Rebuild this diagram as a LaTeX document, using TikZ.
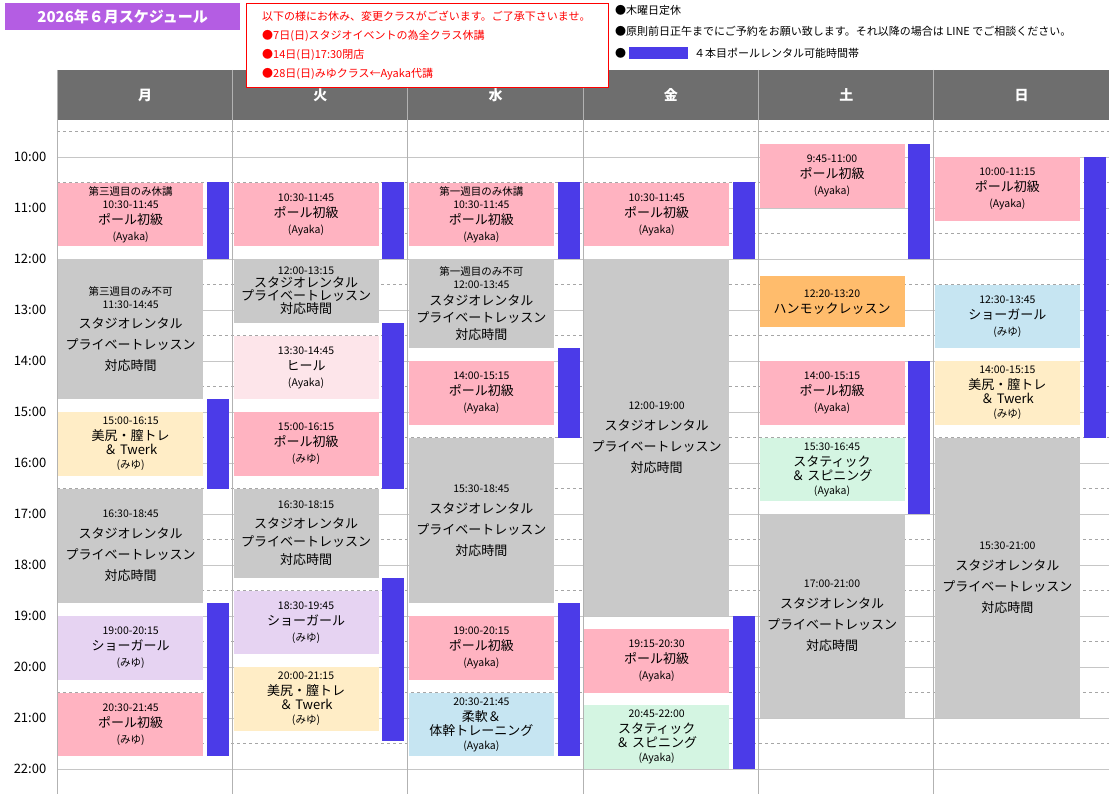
\documentclass[tikz,border=0pt]{standalone}
\usepackage{fontspec}
\setmainfont{Noto Sans CJK JP}
\begin{document}
\begin{tikzpicture}[x=1pt,y=-1pt,
  cbox/.style={anchor=north west,inner sep=0pt,align=center,font=\fontsize{13}{16}\selectfont},
  rbar/.style={fill=barblue,draw=none},
  hline/.style={draw=gray!45,line width=0.6pt},
  dline/.style={draw=gray!70,dashed,line width=0.6pt},
  tlabel/.style={font=\fontsize{13}{15}\selectfont,anchor=center}]
\definecolor{cpink}{HTML}{FFB3C1}
\definecolor{cgray}{HTML}{C9C9C9}
\definecolor{cyel}{HTML}{FFEDC6}
\definecolor{clav}{HTML}{E6D3F2}
\definecolor{cblue}{HTML}{C6E5F2}
\definecolor{cmint}{HTML}{D4F5E2}
\definecolor{corange}{HTML}{FFBC6C}
\definecolor{clpink}{HTML}{FDE5EA}
\definecolor{barblue}{HTML}{4B3BE8}
\definecolor{hdr}{HTML}{6E6E6E}
\definecolor{ttl}{HTML}{B45DE3}
\newcommand{\sm}[1]{{\fontsize{10.5}{13}\selectfont #1}}
\newcommand{\cls}[6]{%
  \pgfmathsetmacro{\xa}{57+175.33*#2+1}%
  \pgfmathsetmacro{\ya}{157+51*(#3-10)}%
  \pgfmathsetmacro{\hh}{51*(#4-#3)}%
  \node[cbox,fill=#5,minimum width=145pt,minimum height=\hh pt] (#1) at (\xa,\ya) {#6};}
\newcommand{\rentbar}[4]{%
  \pgfmathsetmacro{\xa}{57+175.33*#2+150}%
  \pgfmathsetmacro{\ya}{157+51*(#3-10)}%
  \pgfmathsetmacro{\yb}{157+51*(#4-10)}%
  \path[rbar] (\xa,\ya) rectangle ++(22,\yb-\ya) coordinate (#1);}
\useasboundingbox (0,0) rectangle (1109,794);
\fill[white] (0,0) rectangle (1109,794);
% header
\fill[hdr] (57,70) rectangle (1109,120);
\foreach \n [count=\i from 0] in {月,火,水,金,土,日}{
  \node[text=white,font=\fontsize{14}{16}\selectfont\bfseries] (h\i) at (57+175.33*\i+88,95) {\n};}
% grid
\foreach \t in {10,...,22}{
  \draw[hline] (57,{157+51*(\t-10)}) -- (1109,{157+51*(\t-10)});
  \node[tlabel] (t\t) at (30,{157+51*(\t-10)}) {\t:00};}
\foreach \t in {9.5,10.5,...,22.5}{
  \draw[dline] (57,{157+51*(\t-10)}) -- (1109,{157+51*(\t-10)});}
\foreach \i in {0,...,6}{
  \draw[draw=gray!60,line width=0.6pt] ({57+175.33*\i},70) -- ({57+175.33*\i},794);}
% bars
\rentbar{b1}{0}{10.5}{12}\rentbar{b2}{0}{14.75}{16.5}\rentbar{b3}{0}{18.75}{21.75}
\rentbar{b4}{1}{10.5}{12}\rentbar{b5}{1}{13.25}{16.5}\rentbar{b6}{1}{18.25}{21.45}
\rentbar{b7}{2}{10.5}{12}\rentbar{b8}{2}{13.75}{15.5}\rentbar{b9}{2}{18.75}{21.75}
\rentbar{b10}{3}{10.5}{12}\rentbar{b11}{3}{19}{22}
\rentbar{b12}{4}{9.75}{12}\rentbar{b13}{4}{14}{17}
\rentbar{b14}{5}{10}{15.5}
% Mon
\cls{m1}{0}{10.5}{11.75}{cpink}{\sm{第三週目のみ休講}\\[-3pt]\sm{10:30-11:45}\\ポール初級\\\sm{(Ayaka)}}
\cls{m2}{0}{12}{14.75}{cgray}{\sm{第三週目のみ不可}\\[-3pt]\sm{11:30-14:45}\\[4pt]スタジオレンタル\\[5pt]プライベートレッスン\\[5pt]対応時間}
\cls{m3}{0}{15}{16.25}{cyel}{\sm{15:00-16:15}\\美尻・膣トレ\\[-2pt]＆ Twerk\\[-2pt]\sm{(みゆ)}}
\cls{m4}{0}{16.5}{18.75}{cgray}{\sm{16:30-18:45}\\[5pt]スタジオレンタル\\[5pt]プライベートレッスン\\[5pt]対応時間}
\cls{m5}{0}{19}{20.25}{clav}{\sm{19:00-20:15}\\ショーガール\\\sm{(みゆ)}}
\cls{m6}{0}{20.5}{21.75}{cpink}{\sm{20:30-21:45}\\ポール初級\\\sm{(みゆ)}}
% Tue
\cls{u1}{1}{10.5}{11.75}{cpink}{\sm{10:30-11:45}\\ポール初級\\\sm{(Ayaka)}}
\cls{u2}{1}{12}{13.25}{cgray}{\sm{12:00-13:15}\\[-3pt]スタジオレンタル\\[-3pt]プライベートレッスン\\[-3pt]対応時間}
\cls{u3}{1}{13.5}{14.75}{clpink}{\sm{13:30-14:45}\\ヒール\\\sm{(Ayaka)}}
\cls{u4}{1}{15}{16.25}{cpink}{\sm{15:00-16:15}\\ポール初級\\\sm{(みゆ)}}
\cls{u5}{1}{16.5}{18.25}{cgray}{\sm{16:30-18:15}\\[4pt]スタジオレンタル\\[2pt]プライベートレッスン\\[2pt]対応時間}
\cls{u6}{1}{18.5}{19.75}{clav}{\sm{18:30-19:45}\\ショーガール\\\sm{(みゆ)}}
\cls{u7}{1}{20}{21.25}{cyel}{\sm{20:00-21:15}\\美尻・膣トレ\\[-2pt]＆ Twerk\\[-2pt]\sm{(みゆ)}}
% Wed
\cls{w1}{2}{10.5}{11.75}{cpink}{\sm{第一週目のみ休講}\\[-3pt]\sm{10:30-11:45}\\ポール初級\\\sm{(Ayaka)}}
\cls{w2}{2}{12}{13.75}{cgray}{\sm{第一週目のみ不可}\\[-3pt]\sm{12:00-13:45}\\[1pt]スタジオレンタル\\[1pt]プライベートレッスン\\[1pt]対応時間}
\cls{w3}{2}{14}{15.25}{cpink}{\sm{14:00-15:15}\\ポール初級\\\sm{(Ayaka)}}
\cls{w4}{2}{15.5}{18.75}{cgray}{\sm{15:30-18:45}\\[5pt]スタジオレンタル\\[5pt]プライベートレッスン\\[5pt]対応時間}
\cls{w5}{2}{19}{20.25}{cpink}{\sm{19:00-20:15}\\ポール初級\\\sm{(Ayaka)}}
\cls{w6}{2}{20.5}{21.75}{cblue}{\sm{20:30-21:45}\\柔軟＆\\[-2pt]体幹トレーニング\\[-2pt]\sm{(Ayaka)}}
% Fri
\cls{f1}{3}{10.5}{11.75}{cpink}{\sm{10:30-11:45}\\ポール初級\\\sm{(Ayaka)}}
\cls{f2}{3}{12}{19}{cgray}{\sm{12:00-19:00}\\[5pt]スタジオレンタル\\[5pt]プライベートレッスン\\[5pt]対応時間}
\cls{f3}{3}{19.25}{20.5}{cpink}{\sm{19:15-20:30}\\ポール初級\\\sm{(Ayaka)}}
\cls{f4}{3}{20.75}{22}{cmint}{\sm{20:45-22:00}\\スタティック\\[-2pt]＆ スピニング\\[-2pt]\sm{(Ayaka)}}
% Sat
\cls{s1}{4}{9.75}{11}{cpink}{\sm{9:45-11:00}\\ポール初級\\\sm{(Ayaka)}}
\cls{s2}{4}{12.333}{13.333}{corange}{\sm{12:20-13:20}\\ハンモックレッスン}
\cls{s3}{4}{14}{15.25}{cpink}{\sm{14:00-15:15}\\ポール初級\\\sm{(Ayaka)}}
\cls{s4}{4}{15.5}{16.75}{cmint}{\sm{15:30-16:45}\\スタティック\\[-2pt]＆ スピニング\\[-2pt]\sm{(Ayaka)}}
\cls{s5}{4}{17}{21}{cgray}{\sm{17:00-21:00}\\[5pt]スタジオレンタル\\[5pt]プライベートレッスン\\[5pt]対応時間}
% Sun
\cls{d1}{5}{10}{11.25}{cpink}{\sm{10:00-11:15}\\ポール初級\\\sm{(Ayaka)}}
\cls{d2}{5}{12.5}{13.75}{cblue}{\sm{12:30-13:45}\\ショーガール\\\sm{(みゆ)}}
\cls{d3}{5}{14}{15.25}{cyel}{\sm{14:00-15:15}\\美尻・膣トレ\\[-2pt]＆ Twerk\\[-2pt]\sm{(みゆ)}}
\cls{d4}{5}{15.5}{21}{cgray}{\sm{15:30-21:00}\\[5pt]スタジオレンタル\\[5pt]プライベートレッスン\\[5pt]対応時間}
% title
\node[fill=ttl,text=white,anchor=north west,minimum width=235pt,minimum height=27pt,inner sep=0pt,font=\fontsize{15}{17}\selectfont\bfseries] (title) at (5,3) {2026年６月スケジュール};
\node[draw=red,fill=white,line width=1.2pt,anchor=north west,minimum width=362pt,minimum height=84pt,inner sep=0pt] (notice) at (246,3) {};
\node[anchor=north west,text=red,align=left,font=\fontsize{11}{19}\selectfont,inner sep=0pt] (noticetext) at (262,11)
 {以下の様にお休み、変更クラスがございます。ご了承下さいませ。\\
  ●7日(日)スタジオイベントの為全クラス休講\\
  ●14日(日)17:30閉店\\
  ●28日(日)みゆクラス←Ayaka代講};
\node[anchor=west,font=\fontsize{11}{13}\selectfont,inner sep=0pt] (n1) at (615,10) {●木曜日定休};
\node[anchor=west,font=\fontsize{11}{13}\selectfont,inner sep=0pt] (n2) at (615,31) {●原則前日正午までにご予約をお願い致します。それ以降の場合は LINE でご相談ください。};
\node[anchor=west,font=\fontsize{11}{13}\selectfont,inner sep=0pt] (n3) at (615,53) {●};
\fill[barblue] (629,47) rectangle (688,59);
\node[anchor=west,font=\fontsize{11}{13}\selectfont,inner sep=0pt] (n4) at (694,53) {４本目ポールレンタル可能時間帯};
\end{tikzpicture}
\end{document}
